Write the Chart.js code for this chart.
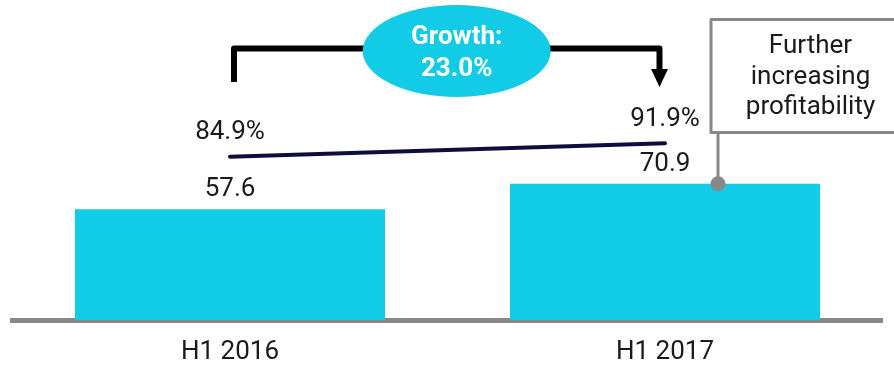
<!DOCTYPE html>
<html>
<head>
<meta charset="utf-8">
<script src="https://cdn.jsdelivr.net/npm/chart.js@4/dist/chart.umd.min.js"></script>
<style>
  html, body { margin: 0; padding: 0; background: #ffffff; }
  #wrap { position: relative; width: 894px; height: 366px; }
</style>
</head>
<body>
<div id="wrap"><canvas id="chart"></canvas></div>
<script>
// Half-year comparison: volume bars with a profitability ratio line
const categories = ['H1 2016', 'H1 2017'];
const volumeValues = [57.6, 70.9];
const ratioValues = [84.9, 91.9];
const growthLabel = ['Growth:', '23.0%'];
const noteLines = ['Further', 'increasing', 'profitability'];

const CYAN = '#11CBE7';
const NAVY = '#0E0E3E';
const GREY = '#888888';
const INK = '#1a1a1a';
const FONT = 'Roboto, "Noto Sans", sans-serif';

const decorations = {
  id: 'decorations',
  afterDatasetsDraw(chart) {
    const ctx = chart.ctx;
    const x = chart.scales.x, y = chart.scales.y;
    ctx.save();

    // value labels above the bars
    ctx.font = '26px ' + FONT;
    ctx.fillStyle = INK;
    ctx.textAlign = 'center';
    ctx.textBaseline = 'alphabetic';
    const bars = chart.getDatasetMeta(0).data;
    bars.forEach((b, i) => {
      ctx.fillText(volumeValues[i].toFixed(1), b.x, b.y - 13);
    });

    // ratio labels above the line ends
    const pts = chart.getDatasetMeta(1).data;
    pts.forEach((p, i) => {
      ctx.fillText(ratioValues[i].toFixed(1) + '%', p.x, p.y - 17.5);
    });

    // growth bracket from the first category to the second
    const xa = x.getPixelForValue(0) + 4;
    const xb = x.getPixelForValue(1) - 5.5;
    const top = 48.5;
    ctx.strokeStyle = '#000000';
    ctx.lineWidth = 6;
    ctx.lineJoin = 'round';
    ctx.beginPath();
    ctx.moveTo(xa, 82);
    ctx.lineTo(xa, top);
    ctx.lineTo(xb, top);
    ctx.lineTo(xb, 70);
    ctx.stroke();
    ctx.fillStyle = '#000000';
    ctx.beginPath();
    ctx.moveTo(xb - 8.5, 69);
    ctx.lineTo(xb + 8.5, 69);
    ctx.lineTo(xb, 87);
    ctx.closePath();
    ctx.fill();

    // growth bubble
    const cx = 456.7, cy = 51;
    ctx.fillStyle = CYAN;
    ctx.beginPath();
    ctx.ellipse(cx, cy, 94, 46, 0, 0, Math.PI * 2);
    ctx.fill();
    ctx.fillStyle = '#ffffff';
    ctx.font = 'bold 26px ' + FONT;
    ctx.fillText(growthLabel[0], cx, 43.5);
    ctx.fillText(growthLabel[1], cx, 76);

    // callout box linked to the top of the second bar
    const bx = 711, by = 19.5, bw = 200, bh = 113;
    ctx.strokeStyle = GREY;
    ctx.lineWidth = 3;
    ctx.fillStyle = '#ffffff';
    ctx.fillRect(bx, by, bw, bh);
    ctx.strokeRect(bx, by, bw, bh);
    ctx.fillStyle = INK;
    ctx.font = '26px ' + FONT;
    const tx = 810.5;
    [53.3, 84, 114].forEach((yy, i) => ctx.fillText(noteLines[i], tx, yy));

    const dotX = 718;
    const dotY = y.getPixelForValue(volumeValues[1]);
    ctx.beginPath();
    ctx.moveTo(dotX, by + bh);
    ctx.lineTo(dotX, dotY);
    ctx.stroke();
    ctx.fillStyle = GREY;
    ctx.beginPath();
    ctx.arc(dotX, dotY, 7.5, 0, Math.PI * 2);
    ctx.fill();

    ctx.restore();
  }
};

new Chart(document.getElementById('chart'), {
  data: {
    labels: categories,
    datasets: [
      {
        type: 'bar',
        data: volumeValues,
        backgroundColor: CYAN,
        borderWidth: 0,
        barPercentage: 1,
        categoryPercentage: 0.7126,
        order: 2
      },
      {
        type: 'line',
        data: ratioValues,
        borderColor: NAVY,
        borderWidth: 4,
        borderCapStyle: 'round',
        pointRadius: 0,
        pointHoverRadius: 0,
        tension: 0,
        order: 1
      }
    ]
  },
  options: {
    responsive: true,
    maintainAspectRatio: false,
    animation: false,
    events: [],
    layout: { padding: { top: 12.4, left: 12.5, right: 11.5, bottom: 0 } },
    plugins: { legend: { display: false }, tooltip: { enabled: false } },
    scales: {
      x: {
        z: 1,
        grid: { display: false, drawTicks: false },
        border: { display: true, color: GREY, width: 5 },
        ticks: { color: INK, font: { family: FONT, size: 26 }, padding: 17 },
        afterFit(scale) { scale.height = 46; }
      },
      y: {
        display: false,
        min: 0,
        max: 160
      }
    }
  },
  plugins: [decorations]
});
</script>
</body>
</html>
